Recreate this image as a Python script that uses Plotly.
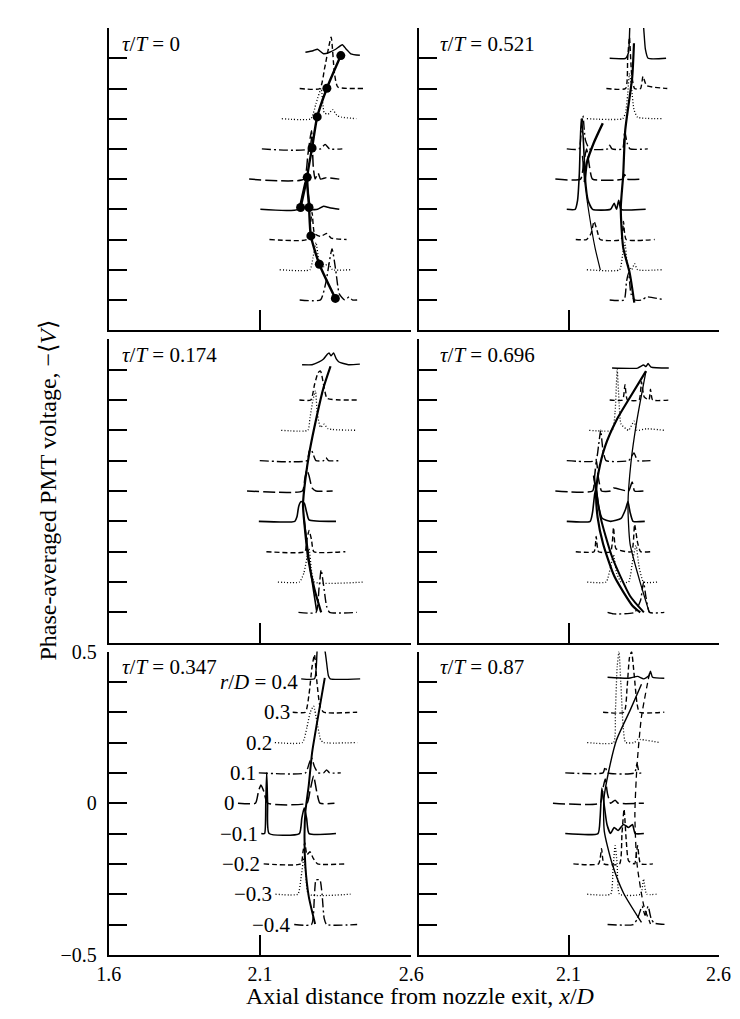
import plotly.graph_objects as go

# ---------------- data ----------------
R_D = [0.4, 0.3, 0.2, 0.1, 0.0, -0.1, -0.2, -0.3, -0.4]
R_LABELS = ["<i>r</i>/<i>D</i> = 0.4", "0.3", "0.2", "0.1", "0", "\u22120.1", "\u22120.2", "\u22120.3", "\u22120.4"]
TAU_TEXT = ["0", "0.174", "0.347", "0.521", "0.696", "0.87"]
X_TICKS = [1.6, 2.1, 2.6]
Y_TICKS = [-0.5, -0.4, -0.3, -0.2, -0.1, 0.0, 0.1, 0.2, 0.3, 0.4, 0.5]
Y_TICKTEXT = ["\u22120.5", "", "", "", "", "0", "", "", "", "", "0.5"]

# profiles: per row r/D, list of [x/D, signal above baseline]
P_TAU_0 = [
    [[2.250, 0.02], [2.275, 0.025], [2.290, 0.03], [2.310, 0.015], [2.330, 0.02], [2.350, 0.03], [2.372, 0.045], [2.385, 0.03], [2.400, 0.015], [2.430, 0.01]],
    [[2.231, 0], [2.298, 0], [2.314, 0.07], [2.335, 0.17], [2.346, 0.05], [2.357, 0.005], [2.441, 0]],
    [[2.172, 0], [2.268, 0], [2.285, 0.05], [2.302, 0.10], [2.312, 0.02], [2.325, 0.015], [2.340, 0.03], [2.355, 0.01], [2.370, 0.005], [2.418, 0]],
    [[2.106, 0], [2.262, 0], [2.272, 0.045], [2.280, 0.0], [2.300, 0.0], [2.315, 0.015], [2.330, 0.0], [2.372, 0]],
    [[2.064, 0], [2.245, 0], [2.258, 0.08], [2.270, 0.16], [2.276, 0.04], [2.282, 0.0], [2.292, 0.02], [2.300, 0.0], [2.320, 0.005], [2.362, 0]],
    [[2.101, 0], [2.225, 0], [2.240, 0.05], [2.252, 0.10], [2.262, 0.03], [2.270, 0.0], [2.290, 0.0], [2.310, 0.01], [2.330, 0.005], [2.362, 0]],
    [[2.131, 0], [2.255, 0], [2.265, 0.04], [2.272, 0.09], [2.280, 0.02], [2.300, 0.01], [2.320, 0.02], [2.335, 0.005], [2.386, 0]],
    [[2.165, 0], [2.265, 0], [2.275, 0.04], [2.285, 0.09], [2.295, 0.03], [2.310, 0.01], [2.325, 0.02], [2.340, 0.0], [2.400, 0]],
    [[2.231, 0], [2.300, 0], [2.318, 0.06], [2.338, 0.17], [2.350, 0.10], [2.362, 0.02], [2.380, 0.0], [2.395, 0.01], [2.405, 0.0], [2.421, 0]],
]
P_TAU_0174 = [
    [[2.239, 0.016], [2.272, 0.016], [2.295, 0.025], [2.310, 0.035], [2.322, 0.05], [2.328, 0.055], [2.335, 0.045], [2.343, 0.055], [2.352, 0.035], [2.361, 0.025], [2.392, 0.016], [2.430, 0.018]],
    [[2.230, 0], [2.268, 0], [2.280, 0.05], [2.292, 0.09], [2.300, 0.095], [2.312, 0.04], [2.322, 0.005], [2.430, 0]],
    [[2.170, 0], [2.258, 0], [2.265, 0.04], [2.275, 0.10], [2.283, 0.13], [2.290, 0.05], [2.300, 0.01], [2.312, 0.02], [2.325, 0.005], [2.420, 0]],
    [[2.099, 0], [2.255, 0], [2.262, 0.03], [2.268, 0.04], [2.276, 0.02], [2.285, 0.0], [2.310, 0.0], [2.318, 0.01], [2.326, 0.0], [2.366, 0]],
    [[2.057, 0], [2.240, 0], [2.248, 0.04], [2.255, 0.07], [2.262, 0.05], [2.272, 0.01], [2.285, 0.0], [2.340, 0]],
    [[2.096, 0], [2.215, 0], [2.222, 0.015], [2.228, 0.05], [2.236, 0.065], [2.246, 0.06], [2.254, 0.03], [2.262, 0.005], [2.351, 0]],
    [[2.121, 0], [2.248, 0], [2.255, 0.04], [2.262, 0.07], [2.270, 0.04], [2.278, 0.0], [2.382, 0]],
    [[2.159, 0], [2.230, 0], [2.245, 0.03], [2.255, 0.08], [2.262, 0.11], [2.270, 0.04], [2.280, 0.0], [2.445, 0]],
    [[2.227, 0], [2.285, 0], [2.295, 0.08], [2.302, 0.14], [2.310, 0.09], [2.320, 0.02], [2.330, 0.0], [2.420, 0]],
]
P_TAU_0347 = [
    [[2.236, 0.01], [2.280, 0.01], [2.286, 0.05], [2.290, 0.12], [2.300, 0.15], [2.310, 0.13], [2.318, 0.08], [2.326, 0.02], [2.332, 0.01], [2.431, 0.01]],
    [[2.208, 0], [2.250, 0], [2.262, 0.06], [2.272, 0.15], [2.280, 0.19], [2.288, 0.10], [2.298, 0.02], [2.310, 0.0], [2.421, 0]],
    [[2.149, 0], [2.240, 0], [2.255, 0.05], [2.266, 0.10], [2.277, 0.12], [2.288, 0.07], [2.300, 0.01], [2.310, 0.0], [2.421, 0]],
    [[2.096, 0], [2.250, 0], [2.262, 0.03], [2.270, 0.05], [2.280, 0.02], [2.292, 0.0], [2.310, 0.0], [2.320, 0.01], [2.330, 0.0], [2.367, 0]],
    [[2.027, 0], [2.085, 0], [2.095, 0.04], [2.103, 0.06], [2.112, 0.04], [2.125, 0.0], [2.255, 0.0], [2.265, 0.04], [2.277, 0.09], [2.287, 0.04], [2.298, 0.0], [2.346, 0]],
    [[2.104, 0], [2.115, 0.0], [2.119, 0.1], [2.122, 0.2], [2.125, 0.1], [2.130, 0.0], [2.230, 0.0], [2.238, 0.05], [2.246, 0.085], [2.254, 0.05], [2.262, 0.0], [2.351, 0]],
    [[2.112, 0], [2.235, 0], [2.242, 0.04], [2.248, 0.07], [2.255, 0.03], [2.265, 0.04], [2.275, 0.02], [2.290, 0.0], [2.383, 0]],
    [[2.151, 0], [2.225, 0], [2.235, 0.05], [2.245, 0.12], [2.252, 0.06], [2.260, 0.0], [2.399, 0]],
    [[2.213, 0], [2.270, 0], [2.280, 0.10], [2.285, 0.147], [2.298, 0.147], [2.305, 0.10], [2.312, 0.02], [2.320, 0.0], [2.421, 0]],
]
P_TAU_0521 = [
    [[2.237, 0], [2.290, 0], [2.300, 0.02], [2.308, 0.15], [2.320, 0.14], [2.335, 0.13], [2.345, 0.15], [2.356, 0.03], [2.365, 0.0], [2.425, 0]],
    [[2.226, 0], [2.290, 0], [2.297, 0.10], [2.303, 0.17], [2.310, 0.05], [2.320, 0.0], [2.340, 0.0], [2.348, 0.04], [2.360, 0.01], [2.429, 0]],
    [[2.161, 0], [2.280, 0], [2.290, 0.02], [2.297, 0.08], [2.303, 0.15], [2.310, 0.10], [2.318, 0.03], [2.330, 0.005], [2.410, 0]],
    [[2.094, 0], [2.135, 0], [2.142, 0.06], [2.148, 0.11], [2.156, 0.03], [2.170, 0.0], [2.230, 0.0], [2.237, 0.012], [2.245, 0.0], [2.280, 0.0], [2.287, 0.06], [2.295, 0.02], [2.305, 0.0], [2.364, 0]],
    [[2.056, 0], [2.140, 0], [2.150, 0.05], [2.160, 0.10], [2.170, 0.04], [2.180, 0.0], [2.280, 0.0], [2.287, 0.015], [2.295, 0.0], [2.342, 0]],
    [[2.094, 0], [2.122, 0], [2.130, 0.03], [2.136, 0.12], [2.142, 0.30], [2.148, 0.25], [2.156, 0.10], [2.165, 0.03], [2.180, 0.0], [2.240, 0.0], [2.252, 0.02], [2.260, 0.0], [2.267, 0.03], [2.275, 0.0], [2.357, 0]],
    [[2.124, 0], [2.160, 0], [2.175, 0.02], [2.185, 0.06], [2.195, 0.03], [2.205, 0.0], [2.275, 0.0], [2.283, 0.06], [2.292, 0.0], [2.387, 0]],
    [[2.161, 0], [2.270, 0], [2.280, 0.05], [2.288, 0.09], [2.296, 0.02], [2.310, 0.0], [2.320, 0.02], [2.330, 0.0], [2.410, 0]],
    [[2.237, 0], [2.285, 0], [2.293, 0.06], [2.300, 0.09], [2.308, 0.02], [2.320, 0.0], [2.345, 0.0], [2.360, 0.01], [2.420, 0]],
]
P_TAU_0696 = [
    [[2.245, 0.005], [2.330, 0.005], [2.350, 0.015], [2.358, 0.01], [2.365, 0.02], [2.375, 0.008], [2.434, 0.005]],
    [[2.237, 0], [2.280, 0], [2.288, 0.05], [2.296, 0.0], [2.335, 0.0], [2.343, 0.06], [2.352, 0.01], [2.368, 0.0], [2.373, 0.035], [2.380, 0.0], [2.441, 0]],
    [[2.169, 0], [2.245, 0], [2.255, 0.06], [2.262, 0.20], [2.268, 0.10], [2.275, 0.02], [2.300, 0.0], [2.318, 0.03], [2.328, 0.0], [2.360, 0.005], [2.419, 0]],
    [[2.094, 0], [2.190, 0], [2.200, 0.05], [2.207, 0.10], [2.214, 0.04], [2.225, 0.0], [2.300, 0.0], [2.318, 0.025], [2.330, 0.0], [2.373, 0]],
    [[2.056, 0], [2.180, 0], [2.187, 0.05], [2.193, 0.10], [2.200, 0.04], [2.210, 0.0], [2.240, 0.0], [2.250, 0.01], [2.300, 0.0], [2.312, 0.03], [2.320, 0.0], [2.354, 0]],
    [[2.094, 0], [2.172, 0], [2.180, 0.03], [2.187, 0.09], [2.192, 0.11], [2.200, 0.05], [2.212, 0.01], [2.240, 0.0], [2.275, 0.01], [2.290, 0.04], [2.298, 0.065], [2.305, 0.03], [2.315, 0.0], [2.354, 0]],
    [[2.124, 0], [2.185, 0], [2.192, 0.05], [2.200, 0.0], [2.240, 0.0], [2.250, 0.08], [2.258, 0.01], [2.310, 0.0], [2.320, 0.09], [2.330, 0.03], [2.340, 0.0], [2.373, 0]],
    [[2.162, 0], [2.225, 0], [2.240, 0.05], [2.250, 0.09], [2.260, 0.03], [2.275, 0.0], [2.300, 0.0], [2.315, 0.08], [2.325, 0.12], [2.335, 0.05], [2.350, 0.0], [2.396, 0]],
    [[2.230, 0], [2.250, -0.005], [2.320, 0.0], [2.340, 0.04], [2.350, 0.10], [2.358, 0.05], [2.370, 0.0], [2.419, 0]],
]
P_TAU_087 = [
    [[2.230, 0.015], [2.300, 0.012], [2.330, 0.018], [2.350, 0.01], [2.368, 0.02], [2.373, 0.035], [2.380, 0.015], [2.419, 0.012]],
    [[2.215, 0], [2.285, 0], [2.295, 0.08], [2.303, 0.18], [2.310, 0.2], [2.318, 0.13], [2.328, 0.03], [2.336, 0.0], [2.419, 0]],
    [[2.162, 0], [2.250, 0], [2.256, 0.10], [2.262, 0.25], [2.268, 0.30], [2.274, 0.2], [2.282, 0.05], [2.290, 0.0], [2.320, 0.0], [2.330, 0.01], [2.404, 0]],
    [[2.089, 0], [2.215, 0], [2.222, 0.02], [2.230, 0.0], [2.320, 0.0], [2.328, 0.03], [2.336, 0.0], [2.351, 0]],
    [[2.048, 0], [2.205, 0], [2.215, 0.05], [2.222, 0.08], [2.230, 0.03], [2.240, 0.0], [2.255, 0.01], [2.265, 0.0], [2.351, 0]],
    [[2.089, 0], [2.198, 0], [2.205, 0.05], [2.211, 0.15], [2.218, 0.10], [2.228, 0.03], [2.240, 0.0], [2.252, 0.02], [2.265, 0.01], [2.283, 0.03], [2.300, 0.02], [2.313, 0.03], [2.322, 0.0], [2.351, 0]],
    [[2.116, 0], [2.200, 0], [2.210, 0.05], [2.218, 0.0], [2.270, 0.0], [2.278, 0.1], [2.285, 0.18], [2.292, 0.08], [2.300, 0.01], [2.320, 0.0], [2.330, 0.06], [2.340, 0.0], [2.381, 0]],
    [[2.162, 0], [2.240, 0], [2.248, 0.08], [2.255, 0.16], [2.262, 0.10], [2.270, 0.0], [2.340, 0.0], [2.350, 0.05], [2.360, 0.0], [2.393, 0]],
    [[2.230, 0], [2.315, 0], [2.330, 0.02], [2.345, 0.06], [2.355, 0.03], [2.365, 0.06], [2.375, 0.02], [2.385, 0.005], [2.426, 0]],
]

# loci of peaks (x/D, y), drawn as heavy / light lines
L_TAU_0 = [[2.367, 0.409], [2.321, 0.301], [2.289, 0.206], [2.272, 0.103], [2.256, 0.006], [2.262, -0.094], [2.268, -0.188], [2.296, -0.282], [2.349, -0.395]]
L_TAU_0_BRANCH = [[2.256, 0.006], [2.234, -0.094]]
DOTS_TAU_0 = [[2.367, 0.409], [2.321, 0.301], [2.289, 0.206], [2.272, 0.103], [2.256, 0.006], [2.234, -0.094], [2.262, -0.094], [2.268, -0.188], [2.296, -0.282], [2.349, -0.395]]
L_TAU_0174 = [[2.333, 0.411], [2.310, 0.341], [2.287, 0.244], [2.265, 0.137], [2.250, 0.040], [2.242, -0.046], [2.250, -0.142], [2.260, -0.228], [2.280, -0.324], [2.302, -0.400]]
L_TAU_0174_B = [[2.245, -0.088], [2.265, -0.249], [2.287, -0.394]]
L_TAU_0347 = [[2.314, 0.413], [2.288, 0.263], [2.272, 0.166], [2.261, 0.059], [2.250, -0.027], [2.247, -0.103], [2.250, -0.210], [2.261, -0.307], [2.282, -0.398]]
L_TAU_0521_A = [[2.318, 0.45], [2.312, 0.336], [2.289, 0.163], [2.282, 0.012], [2.274, -0.096], [2.282, -0.226], [2.304, -0.312], [2.319, -0.409]]
L_TAU_0521_B = [[2.214, 0.185], [2.184, 0.120], [2.161, 0.055], [2.154, -0.010]]
L_TAU_0521_C = [[2.146, 0.077], [2.154, -0.010], [2.169, -0.118], [2.188, -0.226], [2.206, -0.301]]
L_TAU_0696_A = [[2.358, 0.395], [2.305, 0.309], [2.260, 0.234], [2.222, 0.148], [2.200, 0.062], [2.192, -0.002], [2.197, -0.088], [2.215, -0.174], [2.253, -0.282], [2.313, -0.378], [2.339, -0.400]]
L_TAU_0696_B = [[2.358, 0.395], [2.328, 0.234], [2.308, 0.094], [2.298, -0.046], [2.305, -0.174], [2.336, -0.292], [2.369, -0.400]]
L_TAU_0696_C = [[2.184, 0.051], [2.207, -0.088], [2.245, -0.217], [2.305, -0.346], [2.351, -0.400]]
L_TAU_087_A = [[2.343, 0.392], [2.305, 0.306], [2.260, 0.209], [2.233, 0.102], [2.218, 0.015], [2.219, -0.092], [2.245, -0.199], [2.283, -0.296], [2.343, -0.393]]
L_TAU_087_B = [[2.370, 0.430], [2.343, 0.285], [2.328, 0.123], [2.321, -0.038], [2.328, -0.199], [2.351, -0.339], [2.373, -0.398]]

# ---------------- styles ----------------
DASHES = ["solid", "5px,3px", "1px,2px", "9px,3px,2px,3px", "12px,4px",
          "solid", "5px,3px", "1px,2px", "9px,3px,2px,3px"]
WIDTHS = [1.4, 1.4, 1.3, 1.4, 1.5, 1.6, 1.4, 1.3, 1.4]
FONT = "Liberation Serif"

XDOM_L = [91 / 740, 404.5 / 740]
XDOM_R = [412 / 740, 723 / 740]
YDOM = [[(1019 - 318) / 1019, (1019 - 9.3) / 1019],
        [(1019 - 637.5) / 1019, (1019 - 327.3) / 1019],
        [(1019 - 956.5) / 1019, (1019 - 646.5) / 1019]]

panels = [
    (1, P_TAU_0, [(L_TAU_0, 2.4, "solid"), (L_TAU_0_BRANCH, 2.4, "solid")], 0, 0),
    (2, P_TAU_0174, [(L_TAU_0174, 2.2, "solid"), (L_TAU_0174_B, 1.6, "solid")], 0, 1),
    (3, P_TAU_0347, [(L_TAU_0347, 2.0, "solid")], 0, 2),
    (4, P_TAU_0521, [(L_TAU_0521_A, 2.2, "solid"), (L_TAU_0521_B, 2.4, "solid"), (L_TAU_0521_C, 1.2, "solid")], 1, 0),
    (5, P_TAU_0696, [(L_TAU_0696_A, 2.2, "solid"), (L_TAU_0696_B, 1.3, "solid"), (L_TAU_0696_C, 2.0, "solid")], 1, 1),
    (6, P_TAU_087, [(L_TAU_087_A, 1.4, "solid"), (L_TAU_087_B, 1.3, "6px,4px")], 1, 2),
]

fig = go.Figure()

for idx, profiles, loci, col, row in panels:
    xa = "x" if idx == 1 else f"x{idx}"
    ya = "y" if idx == 1 else f"y{idx}"
    for k, prof in enumerate(profiles):
        fig.add_trace(go.Scatter(
            x=[p[0] for p in prof], y=[R_D[k] + p[1] for p in prof],
            mode="lines", xaxis=xa, yaxis=ya, showlegend=False, hoverinfo="skip",
            line=dict(color="black", width=WIDTHS[k], dash=DASHES[k], shape="spline", smoothing=0.5)))
    for pts, w, d in loci:
        fig.add_trace(go.Scatter(
            x=[p[0] for p in pts], y=[p[1] for p in pts],
            mode="lines", xaxis=xa, yaxis=ya, showlegend=False, hoverinfo="skip",
            line=dict(color="black", width=w, dash=d, shape="spline", smoothing=0.6)))
    if idx == 1:
        fig.add_trace(go.Scatter(
            x=[p[0] for p in DOTS_TAU_0], y=[p[1] for p in DOTS_TAU_0],
            mode="markers", xaxis=xa, yaxis=ya, showlegend=False, hoverinfo="skip",
            marker=dict(color="black", size=9)))

    bottom = (row == 2)
    left = (col == 0)
    xkey = "xaxis" if idx == 1 else f"xaxis{idx}"
    ykey = "yaxis" if idx == 1 else f"yaxis{idx}"
    if bottom and left:
        xtext = ["1.6", "2.1", "2.6"]
    elif bottom:
        xtext = ["", "2.1", "2.6"]
    else:
        xtext = ["", "", ""]
    fig.layout[xkey] = dict(
        domain=XDOM_L if left else XDOM_R, anchor=ya, range=[1.6, 2.6],
        showgrid=False, zeroline=False, showline=True, linecolor="black", linewidth=2,
        ticks="inside", ticklen=20, tickwidth=2, tickcolor="black",
        tickvals=X_TICKS, ticktext=xtext, showticklabels=bottom,
        tickfont=dict(family=FONT, size=20, color="black"), ticklabelstandoff=0)
    fig.layout[ykey] = dict(
        domain=YDOM[row], anchor=xa, range=[-0.5, 0.5],
        showgrid=False, zeroline=False, showline=True, linecolor="black", linewidth=2,
        ticks="inside", ticklen=18, tickwidth=2, tickcolor="black",
        tickvals=Y_TICKS, ticktext=Y_TICKTEXT, showticklabels=(bottom and left),
        tickfont=dict(family=FONT, size=20, color="black"), ticklabelstandoff=6)

    fig.add_annotation(
        x=1.638 if left else 1.664, y=0.448, xref=xa, yref=ya,
        text=f"<i>\u03c4</i>/<i>T</i> = {TAU_TEXT[idx - 1]}",
        showarrow=False, xanchor="left", yanchor="middle",
        font=dict(family=FONT, size=21, color="black"))

for k, prof in enumerate(P_TAU_0347):
    fig.add_annotation(
        x=prof[0][0] - 0.004, y=R_D[k], xref="x3", yref="y3",
        text=R_LABELS[k], showarrow=False, xanchor="right", yanchor="middle",
        font=dict(family=FONT, size=21, color="black"))

fig.add_annotation(
    x=414 / 740, y=(1019 - 999) / 1019, xref="paper", yref="paper",
    text="Axial distance from nozzle exit, <i>x</i>/<i>D</i>", showarrow=False,
    xanchor="center", yanchor="middle", font=dict(family=FONT, size=24, color="black"))
fig.add_annotation(
    x=28 / 740, y=(1019 - 482) / 1019, xref="paper", yref="paper",
    text="Phase-averaged PMT voltage, \u2212\u27e8<i>V</i>\u27e9", showarrow=False, textangle=-90,
    xanchor="center", yanchor="middle", font=dict(family=FONT, size=24, color="black"))

fig.update_layout(
    width=740, height=1019, margin=dict(l=0, r=0, t=0, b=0),
    paper_bgcolor="white", plot_bgcolor="white", showlegend=False,
    font=dict(family=FONT, color="black"))

fig.write_html("out.html")
